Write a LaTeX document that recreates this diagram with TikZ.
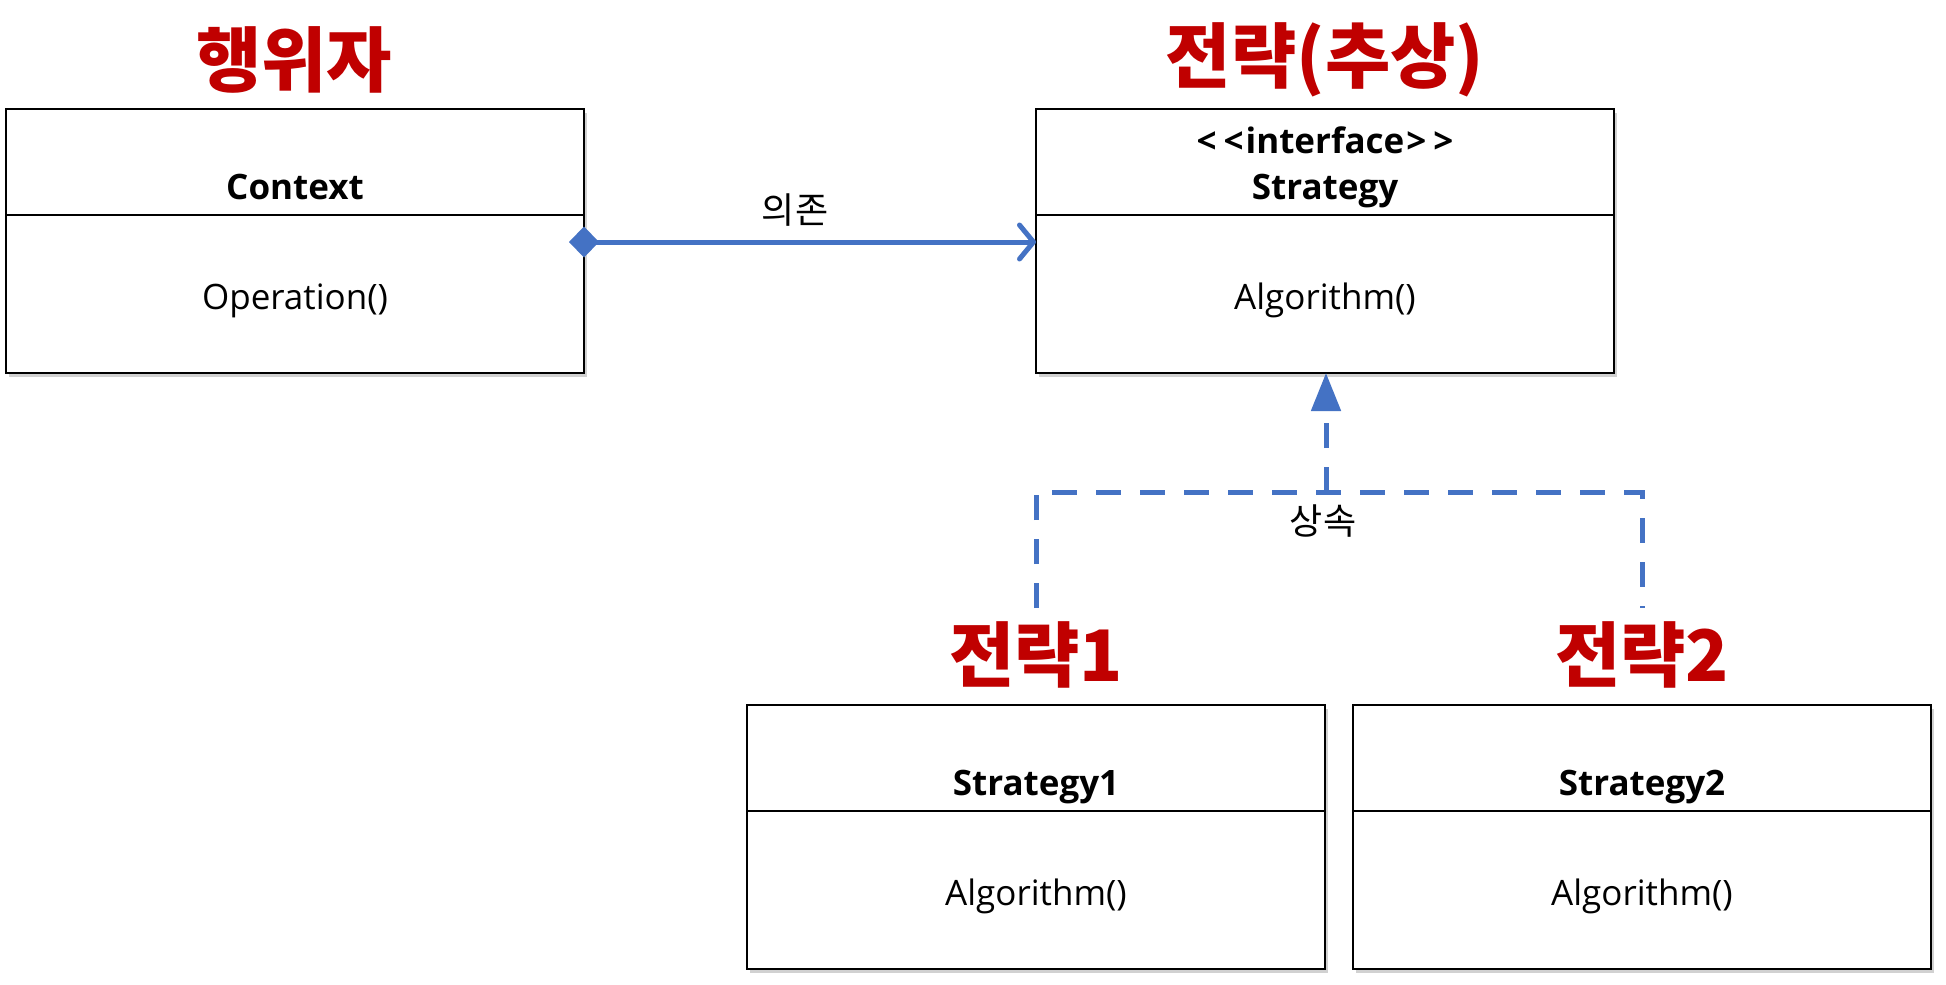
\documentclass[tikz,border=0pt]{standalone}
\usepackage{fontspec}
\setmainfont{Open Sans}
\newfontfamily\kr{Noto Sans CJK KR}
\usetikzlibrary{arrows.meta,calc,shadows}
\definecolor{ttlred}{HTML}{C00000}
\definecolor{lnblue}{HTML}{4472C4}
\tikzset{
  umlbox/.style={draw=black, line width=2.8pt, fill=white, minimum width=578pt, minimum height=264pt,
    anchor=north west, inner sep=0pt, outer sep=0pt,
    drop shadow={shadow xshift=3pt, shadow yshift=-4pt, opacity=0.18, fill=black}},
  divider/.style={draw=black, line width=2pt},
  ttl/.style={text=ttlred, inner sep=0pt, font=\kr\bfseries\fontsize{71}{76}\selectfont},
  lbl/.style={inner sep=0pt, anchor=base, font=\fontsize{35}{40}\selectfont},
  blbl/.style={inner sep=0pt, anchor=base, font=\bfseries\fontsize{35}{40}\selectfont},
  krlbl/.style={inner sep=0pt, font=\kr\fontsize{36}{40}\selectfont},
  dep/.style={draw=lnblue, line width=5pt, shorten <=-15pt, {Diamond[width=31pt,length=30pt]}-{Straight Barb[length=14pt,width=34pt,round]}},
  inh/.style={draw=lnblue, line width=5pt, dash pattern=on 25pt off 19pt},
}
\begin{document}
\begin{tikzpicture}[x=1pt,y=-1pt]
\useasboundingbox (0,0) rectangle (1946,985);
\fill[white] (0,0) rectangle (1946,985);

% boxes
\node[umlbox] (ctx) at (6,109) {};
\node[umlbox] (str) at (1036,109) {};
\node[umlbox] (s1) at (747,705) {};
\node[umlbox] (s2) at (1353,705) {};

\draw[divider] ($(ctx.north west)+(0,106)$) coordinate (ctxdl) -- ($(ctx.north east)+(0,106)$) coordinate (ctxdr);
\draw[divider] ($(str.north west)+(0,106)$) coordinate (strdl) -- ($(str.north east)+(0,106)$) coordinate (strdr);
\draw[divider] ($(s1.north west)+(0,106)$) coordinate (s1dl) -- ($(s1.north east)+(0,106)$) coordinate (s1dr);
\draw[divider] ($(s2.north west)+(0,106)$) coordinate (s2dl) -- ($(s2.north east)+(0,106)$) coordinate (s2dr);

% titles
\node[ttl] (t0) at (294,60) {행위자};
\node[ttl] (t1) at (1325,60) {전략(추상)};
\node[ttl] (t2) at (1036,655) {전략1};
\node[ttl] (t3) at (1642,655) {전략2};

% texts
\node[blbl] (ctxname) at (295,199) {Context};
\node[lbl] (ctxop) at (295,309) {Operation()};
\node[blbl] (strster) at (1325,153) {<\kern7pt<\kern2pt interface\kern2pt>\kern7pt>};
\node[blbl] (strname) at (1325,199) {Strategy};
\node[lbl] (strop) at (1325,309) {Algorithm()};
\node[blbl] (s1name) at (1036,795) {Strategy1};
\node[lbl] (s1op) at (1036,905) {Algorithm()};
\node[blbl] (s2name) at (1642,795) {Strategy2};
\node[lbl] (s2op) at (1642,905) {Algorithm()};

% dependency
\coordinate (depA) at (ctx.east |- 0,242);
\coordinate (depB) at (str.west |- 0,242);
\draw[dep] (depA) -- (depB);
\node[krlbl] (deplbl) at (795,210) {의존};

% inheritance
\coordinate (j) at (1326,492);
\coordinate (l1) at (1036,608);
\coordinate (l2) at (1642,608);
\draw[inh] (l1) |- (j) -| (l2);
\draw[inh, -{Triangle[width=29pt,length=38pt]}] (j) -- (j |- str.south);
\node[krlbl] (inhlbl) at (1323,521) {상속};
\end{tikzpicture}
\end{document}
